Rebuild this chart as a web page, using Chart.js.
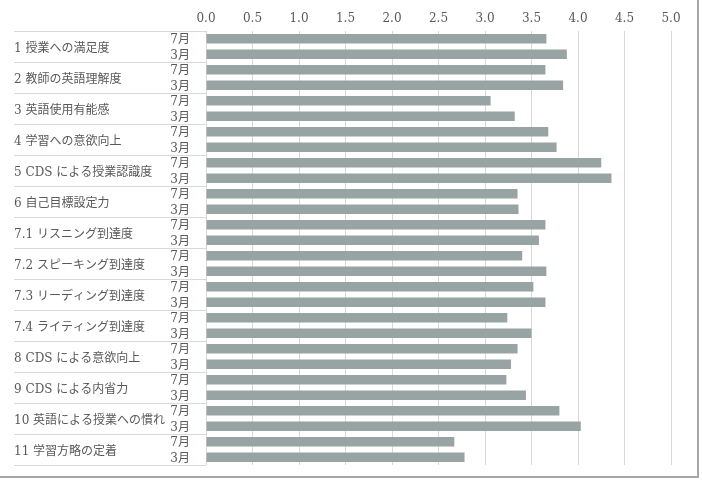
<!DOCTYPE html>
<html lang="ja">
<head>
  <meta charset="UTF-8" />
  <title>授業アンケート 7月・3月</title>
  <script src="https://cdn.jsdelivr.net/npm/chart.js"></script>
  <style>
    body {
      margin: 0;
      background-color: #ffffff;
    }
    .frame {
      position: absolute;
      left: 0;
      top: 0;
      width: 697px;
      height: 476px;
      border-right: 2px solid #a6a6a6;
      border-bottom: 2px solid #a6a6a6;
    }
    canvas {
      display: block;
    }
  </style>
</head>
<body>
  <div class="frame">
    <canvas id="surveyChart" width="697" height="476"></canvas>
  </div>

<script>
  // Données
  const groupLabels = [
    '1 授業への満足度',
    '2 教師の英語理解度',
    '3 英語使用有能感',
    '4 学習への意欲向上',
    '5 CDS による授業認識度',
    '6 自己目標設定力',
    '7.1 リスニング到達度',
    '7.2 スピーキング到達度',
    '7.3 リーディング到達度',
    '7.4 ライティング到達度',
    '8 CDS による意欲向上',
    '9 CDS による内省力',
    '10 英語による授業への慣れ',
    '11 学習方略の定着'
  ];
  const monthLabels = ['7月', '3月'];
  const julyValues  = [3.66, 3.65, 3.06, 3.68, 4.25, 3.35, 3.65, 3.40, 3.52, 3.24, 3.35, 3.23, 3.80, 2.67];
  const marchValues = [3.88, 3.84, 3.32, 3.77, 4.36, 3.36, 3.58, 3.66, 3.65, 3.50, 3.28, 3.44, 4.03, 2.78];

  const textColor = '#595959';
  const lineColor = '#d9d9d9';
  const fontFamily = "'DejaVu Serif', 'Noto Sans CJK JP', serif";

  // une ligne par mois : 7月 puis 3月 pour chaque groupe
  const rowLabels = [];
  const rowValues = [];
  groupLabels.forEach((g, i) => {
    rowLabels.push(monthLabels[0], monthLabels[1]);
    rowValues.push(julyValues[i], marchValues[i]);
  });

  // Étiquettes (groupe + mois) et lignes de séparation à gauche
  const groupLabelPlugin = {
    id: 'groupLabels',
    afterDraw(chart) {
      const ctx = chart.ctx;
      const y = chart.scales.y;
      const step = y.getPixelForValue(1) - y.getPixelForValue(0);
      const x0 = 14;
      const x1 = chart.chartArea.left;
      ctx.save();
      ctx.strokeStyle = lineColor;
      ctx.lineWidth = 1;
      ctx.font = '12px ' + fontFamily;
      ctx.fillStyle = textColor;
      ctx.textBaseline = 'middle';
      groupLabels.forEach((label, i) => {
        const top = Math.round(y.getPixelForValue(2 * i) - step / 2) + 0.5;
        ctx.beginPath();
        ctx.moveTo(x0, top);
        ctx.lineTo(x1, top);
        ctx.stroke();
        const mid = (y.getPixelForValue(2 * i) + y.getPixelForValue(2 * i + 1)) / 2;
        ctx.textAlign = 'left';
        ctx.fillText(label, x0, mid + 2);
      });
      // mois à droite de la colonne
      ctx.textAlign = 'right';
      rowLabels.forEach((m, j) => {
        ctx.fillText(m, x1 - 16, y.getPixelForValue(j) + 1.5);
      });
      const bottom = Math.round(y.getPixelForValue(rowLabels.length - 1) + step / 2) + 0.5;
      ctx.beginPath();
      ctx.moveTo(x0, bottom);
      ctx.lineTo(x1, bottom);
      ctx.stroke();
      ctx.restore();
    }
  };

  new Chart(document.getElementById('surveyChart'), {
    type: 'bar',
    data: {
      labels: rowLabels,
      datasets: [{
        data: rowValues,
        backgroundColor: '#97a4a3',
        barPercentage: 0.62,
        categoryPercentage: 1.0
      }]
    },
    options: {
      indexAxis: 'y',
      responsive: false,
      animation: false,
      layout: {
        padding: { left: 0, right: 26, top: 0, bottom: 11 }
      },
      plugins: {
        legend: { display: false },
        tooltip: { enabled: false }
      },
      scales: {
        x: {
          position: 'top',
          min: 0,
          max: 5,
          ticks: {
            stepSize: 0.5,
            color: textColor,
            padding: 5,
            font: { family: fontFamily, size: 12 },
            callback: (v) => Number(v).toFixed(1)
          },
          grid: { color: lineColor, drawTicks: false },
          border: { display: false },
          afterFit: (scale) => { scale.height = 31; }
        },
        y: {
          ticks: { display: false },
          grid: { display: false, drawTicks: false },
          border: { display: false },
          afterFit: (scale) => { scale.width = 206; }
        }
      }
    },
    plugins: [groupLabelPlugin]
  });
</script>
</body>
</html>
